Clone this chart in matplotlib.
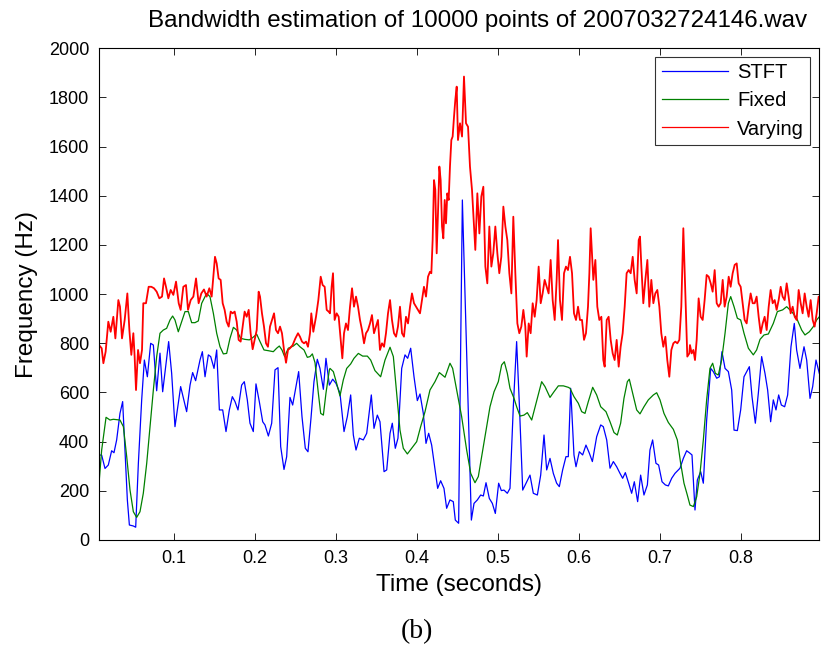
import matplotlib
matplotlib.use("Agg")
import matplotlib.pyplot as plt

plt.rcParams['font.family'] = ['Liberation Sans', 'DejaVu Sans']

title = "Bandwidth estimation of 10000 points of 2007032724146.wav"
xlabel = "Time (seconds)"
ylabel = "Frequency (Hz)"
caption = "(b)"
series_names = ["STFT", "Fixed", "Varying"]
xticks = [0.1, 0.2, 0.3, 0.4, 0.5, 0.6, 0.7, 0.8]
yticks = [0, 200, 400, 600, 800, 1000, 1200, 1400, 1600, 1800, 2000]

# STFT (blue)
stft_t = [0.0074, 0.0107, 0.0148, 0.0189, 0.0230, 0.0259, 0.0292, 0.0333, 0.0366, 0.0395,
          0.0424, 0.0449, 0.0498, 0.0527, 0.0560, 0.0601, 0.0634, 0.0671, 0.0712, 0.0745,
          0.0786, 0.0827, 0.0860, 0.0934, 0.0971, 0.1012, 0.1082, 0.1156, 0.1198, 0.1230,
          0.1267, 0.1321, 0.1350, 0.1383, 0.1424, 0.1453, 0.1494, 0.1527, 0.1560,
          0.1601, 0.1642, 0.1683, 0.1720, 0.1753, 0.1790, 0.1835, 0.1868, 0.1905, 0.1938,
          0.1979, 0.2012, 0.2053, 0.2095, 0.2123, 0.2165, 0.2206, 0.2247, 0.2284, 0.2317,
          0.2358, 0.2391, 0.2432, 0.2465, 0.2506, 0.2539, 0.2580, 0.2621, 0.2654, 0.2691,
          0.2728, 0.2769, 0.2802, 0.2844, 0.2876, 0.2918, 0.2959, 0.3000,
          0.3049, 0.3099, 0.3140, 0.3181, 0.3214, 0.3247, 0.3288, 0.3337, 0.3379, 0.3436,
          0.3469, 0.3510, 0.3543, 0.3593, 0.3626, 0.3667, 0.3695, 0.3732, 0.3765, 0.3811,
          0.3852, 0.3885, 0.3922, 0.3963, 0.4004, 0.4037, 0.4078, 0.4111, 0.4144, 0.4181,
          0.4218, 0.4255, 0.4292, 0.4333, 0.4366, 0.4407, 0.4448,
          0.4473, 0.4514, 0.4560, 0.4671, 0.4704, 0.4745, 0.4786, 0.4819, 0.4852, 0.4893,
          0.4930, 0.4967, 0.5008, 0.5041, 0.5074, 0.5115, 0.5148, 0.5189, 0.5230, 0.5263,
          0.5305, 0.5346, 0.5395, 0.5436, 0.5486, 0.5527, 0.5568, 0.5601, 0.5642, 0.5683,
          0.5724, 0.5757, 0.5798, 0.5839, 0.5868, 0.5897, 0.5938,
          0.5963, 0.6004, 0.6045, 0.6086, 0.6128, 0.6165, 0.6218, 0.6268, 0.6300, 0.6342,
          0.6383, 0.6424, 0.6465, 0.6506, 0.6539, 0.6572, 0.6613, 0.6650, 0.6683, 0.6724,
          0.6761, 0.6802, 0.6844, 0.6876, 0.6909, 0.6950, 0.6983, 0.7025, 0.7066, 0.7103,
          0.7144, 0.7185, 0.7247, 0.7288, 0.7329, 0.7362, 0.7395, 0.7432,
          0.7461, 0.7502, 0.7535, 0.7576, 0.7626, 0.7658, 0.7700, 0.7733, 0.7765, 0.7803,
          0.7844, 0.7885, 0.7914, 0.7955, 0.7996, 0.8037, 0.8103, 0.8136, 0.8177, 0.8214,
          0.8255, 0.8296, 0.8329, 0.8366, 0.8399, 0.8432, 0.8465, 0.8498, 0.8539, 0.8576,
          0.8617, 0.8658, 0.8687, 0.8728, 0.8778, 0.8811, 0.8852, 0.8885, 0.8926, 0.8967]
stft_f = [346, 345, 291, 305, 363, 355, 407, 515, 563, 366,
          163, 61, 57, 52, 312, 570, 732, 664, 800, 793,
          607, 760, 603, 807, 678, 461, 624, 522, 630, 681,
          648, 732, 766, 664, 753, 746, 698, 773, 529,
          529, 441, 529, 583, 563, 529, 630, 644, 570, 475,
          441, 635, 563, 481, 468, 423, 475, 692, 701, 380,
          287, 339, 580, 549, 624, 685, 502, 373, 359, 495,
          644, 735, 698, 613, 739, 630, 654, 637,
          597, 441, 502, 590, 427, 366, 414, 407, 434, 590,
          454, 508, 481, 278, 285, 434, 475, 373, 414, 698,
          753, 739, 780, 664, 567, 594, 515, 393, 434, 386,
          298, 210, 241, 210, 129, 163, 156,
          81, 68, 1383, 81, 149, 163, 183, 179, 233, 169,
          149, 108, 231, 201, 203, 190, 210, 542, 807, 556,
          203, 231, 264, 190, 183, 264, 427, 285, 332, 271,
          231, 217, 285, 339, 339, 617, 346,
          298, 359, 346, 386, 353, 319, 420, 468, 461, 407,
          292, 319, 298, 271, 251, 274, 231, 190, 237, 156,
          264, 183, 224, 366, 407, 312, 305, 237, 224, 220,
          251, 271, 292, 332, 363, 355, 346, 122,
          244, 278, 231, 488, 698, 685, 658, 664, 766, 698,
          685, 610, 447, 445, 529, 664, 705, 583, 475, 597,
          746, 678, 610, 481, 570, 529, 590, 549, 542, 590,
          786, 881, 773, 698, 786, 732, 576, 624, 732, 678]

# Fixed (green)
fixed_t = [0.0074, 0.0107, 0.0161, 0.0210, 0.0251, 0.0333, 0.0375, 0.0416, 0.0457, 0.0498,
           0.0539, 0.0580, 0.0621, 0.0663, 0.0704, 0.0745, 0.0786, 0.0827, 0.0868, 0.0909,
           0.0951, 0.0983, 0.1012, 0.1053, 0.1095, 0.1136, 0.1177, 0.1218, 0.1259, 0.1300,
           0.1342, 0.1403,
           0.1444, 0.1486, 0.1527, 0.1568, 0.1609, 0.1650, 0.1691, 0.1733, 0.1774, 0.1823,
           0.1877, 0.1930, 0.1971, 0.2021, 0.2062, 0.2111, 0.2165, 0.2226, 0.2267, 0.2300,
           0.2333, 0.2366, 0.2411, 0.2473, 0.2514, 0.2555, 0.2605, 0.2646, 0.2679, 0.2708,
           0.2741, 0.2782, 0.2811, 0.2844, 0.2876, 0.2918,
           0.2926, 0.2967, 0.3008, 0.3049, 0.3090, 0.3132, 0.3181, 0.3222, 0.3276, 0.3329,
           0.3387, 0.3428, 0.3481, 0.3551, 0.3605, 0.3667, 0.3708, 0.3749, 0.3790, 0.3831,
           0.3881, 0.3934, 0.3996, 0.4045, 0.4099, 0.4160, 0.4222, 0.4276, 0.4346,
           0.4407, 0.4440, 0.4490, 0.4551, 0.4613, 0.4663, 0.4716, 0.4757, 0.4798, 0.4852,
           0.4901, 0.4951, 0.5004, 0.5045, 0.5078, 0.5115, 0.5148, 0.5198, 0.5230, 0.5272,
           0.5321, 0.5362, 0.5416, 0.5469, 0.5539, 0.5580, 0.5642, 0.5691, 0.5745, 0.5807,
           0.5868,
           0.5889, 0.5938, 0.5992, 0.6033, 0.6074, 0.6115, 0.6169, 0.6218, 0.6268, 0.6333,
           0.6383, 0.6432, 0.6473, 0.6514, 0.6555, 0.6597, 0.6621, 0.6663, 0.6712, 0.6753,
           0.6802, 0.6856, 0.6918, 0.6959, 0.7000, 0.7049, 0.7103, 0.7165, 0.7214, 0.7255,
           0.7296, 0.7337,
           0.7370, 0.7412, 0.7453, 0.7494, 0.7535, 0.7576, 0.7617, 0.7650, 0.7683, 0.7720,
           0.7761, 0.7803, 0.7844, 0.7873, 0.7914, 0.7955, 0.7996, 0.8037, 0.8091, 0.8152,
           0.8193, 0.8235, 0.8284, 0.8338, 0.8399, 0.8449, 0.8514, 0.8564, 0.8626, 0.8687,
           0.8749, 0.8790, 0.8844, 0.8893, 0.8934, 0.8967]
fixed_f = [230, 366, 499, 488, 491, 488, 461, 339, 203, 115,
           92, 115, 190, 312, 461, 610, 746, 841, 854, 861,
           895, 911, 895, 847, 888, 929, 929, 884, 884, 891,
           963, 1003,
           990, 922, 841, 786, 757, 759, 820, 865, 854, 820,
           816, 814, 823, 837, 807, 773, 770, 766, 780, 789,
           773, 746, 780, 789, 800, 786, 773, 743, 746, 757,
           721, 597, 515, 508, 597, 692,
           698, 685, 637, 586, 651, 698, 716, 739, 759, 748,
           748, 732, 689, 664, 732, 784, 746, 597, 447, 373,
           350, 373, 400, 461, 522, 610, 644, 681, 662,
           719, 698, 610, 502, 366, 271, 233, 258, 339, 447,
           542, 603, 644, 712, 725, 678, 617, 576, 542, 504,
           508, 518, 488, 556, 644, 624, 580, 603, 627, 627,
           621,
           617, 583, 556, 522, 515, 563, 621, 590, 542, 522,
           481, 437, 427, 475, 576, 644, 654, 597, 529, 513,
           542, 570, 590, 599, 570, 515, 478, 450, 407, 312,
           231, 183,
           142, 136, 176, 271, 407, 570, 698, 719, 678, 671,
           732, 841, 963, 990, 949, 902, 895, 841, 780, 753,
           773, 816, 834, 838, 881, 929, 936, 949, 929, 902,
           854, 834, 847, 868, 895, 908]

# Varying (red)
varying_t = [0.0074, 0.0107, 0.0128, 0.0156, 0.0189, 0.0218, 0.0251, 0.0276,
             0.0313, 0.0333, 0.0358, 0.0391, 0.0424, 0.0449, 0.0473, 0.0498,
             0.0514, 0.0531, 0.0556, 0.0580, 0.0605, 0.0621, 0.0654, 0.0687,
             0.0720, 0.0753, 0.0786, 0.0819, 0.0852, 0.0877, 0.0901, 0.0930,
             0.0959, 0.0992, 0.1025, 0.1058, 0.1082, 0.1115, 0.1148, 0.1173,
             0.1206, 0.1239, 0.1272, 0.1304, 0.1337, 0.1370, 0.1403, 0.1436,
             0.1465,
             0.1506, 0.1527, 0.1551, 0.1576, 0.1601, 0.1625, 0.1650, 0.1675,
             0.1700, 0.1724, 0.1749, 0.1774, 0.1798, 0.1823, 0.1848, 0.1872,
             0.1897, 0.1922, 0.1946, 0.1971, 0.1996, 0.2021, 0.2045, 0.2062,
             0.2086, 0.2111, 0.2136, 0.2160, 0.2185, 0.2210, 0.2235, 0.2259,
             0.2284, 0.2309, 0.2333, 0.2358, 0.2383, 0.2407, 0.2432, 0.2465,
             0.2498, 0.2531, 0.2555, 0.2580, 0.2605, 0.2630, 0.2654, 0.2679,
             0.2695, 0.2720, 0.2753, 0.2782, 0.2811, 0.2835, 0.2860, 0.2885,
             0.2909,
             0.2926, 0.2946, 0.2963, 0.2983, 0.3008, 0.3033, 0.3058, 0.3078,
             0.3099, 0.3123, 0.3148, 0.3173, 0.3198, 0.3222, 0.3247, 0.3272,
             0.3296, 0.3321, 0.3346, 0.3370, 0.3395, 0.3420, 0.3444, 0.3469,
             0.3494, 0.3518, 0.3543, 0.3568, 0.3593, 0.3617, 0.3642, 0.3667,
             0.3691, 0.3716, 0.3741, 0.3765, 0.3790, 0.3815, 0.3839, 0.3864,
             0.3889, 0.3914, 0.3938, 0.3963, 0.3988, 0.4012, 0.4037, 0.4062,
             0.4086, 0.4111, 0.4136, 0.4160, 0.4177, 0.4193, 0.4210, 0.4226,
             0.4243, 0.4259, 0.4276, 0.4292, 0.4309, 0.4325, 0.4342, 0.4358,
             0.4374, 0.4391, 0.4407, 0.4424, 0.4440, 0.4457, 0.4473, 0.4490,
             0.4506, 0.4531, 0.4556, 0.4580, 0.4605, 0.4630, 0.4654, 0.4679,
             0.4704, 0.4720, 0.4745, 0.4770, 0.4794, 0.4819, 0.4844, 0.4868,
             0.4893, 0.4918, 0.4942, 0.4967, 0.4992, 0.5016, 0.5041, 0.5066,
             0.5091, 0.5115, 0.5140, 0.5165, 0.5189, 0.5214, 0.5239, 0.5263,
             0.5288, 0.5313, 0.5337, 0.5354, 0.5379, 0.5403, 0.5428, 0.5453,
             0.5477, 0.5502, 0.5527, 0.5551, 0.5576, 0.5601, 0.5625, 0.5650,
             0.5675, 0.5700, 0.5724, 0.5741, 0.5765, 0.5790, 0.5815, 0.5839,
             0.5864,
             0.5889, 0.5914, 0.5938, 0.5963, 0.5988, 0.6012, 0.6037, 0.6062,
             0.6086, 0.6111, 0.6128, 0.6144, 0.6160, 0.6177, 0.6202, 0.6226,
             0.6251, 0.6276, 0.6300, 0.6317, 0.6342, 0.6366, 0.6391, 0.6416,
             0.6440, 0.6465, 0.6490, 0.6514, 0.6539, 0.6564, 0.6588, 0.6613,
             0.6638, 0.6663, 0.6687, 0.6712, 0.6737, 0.6753, 0.6770, 0.6794,
             0.6819, 0.6844, 0.6868, 0.6893, 0.6918, 0.6942, 0.6967, 0.6992,
             0.7016, 0.7041, 0.7066, 0.7090, 0.7115, 0.7140, 0.7165, 0.7189,
             0.7214, 0.7239, 0.7263, 0.7288, 0.7313, 0.7337, 0.7362,
             0.7370, 0.7391, 0.7412, 0.7432, 0.7453, 0.7477, 0.7502, 0.7527,
             0.7551, 0.7576, 0.7601, 0.7626, 0.7650, 0.7675, 0.7700, 0.7724,
             0.7749, 0.7774, 0.7798, 0.7823, 0.7848, 0.7872, 0.7897, 0.7922,
             0.7947, 0.7971, 0.7996, 0.8021, 0.8045, 0.8070, 0.8095, 0.8119,
             0.8144, 0.8169, 0.8193, 0.8218, 0.8243, 0.8268, 0.8292, 0.8317,
             0.8342, 0.8366, 0.8391, 0.8416, 0.8440, 0.8465, 0.8490, 0.8514,
             0.8539, 0.8564, 0.8588, 0.8613, 0.8638, 0.8663, 0.8687, 0.8712,
             0.8737, 0.8761, 0.8786, 0.8811, 0.8835, 0.8860, 0.8885, 0.8909,
             0.8934, 0.8959, 0.8971]
varying_f = [793, 780, 719, 766, 888, 847, 908, 820,
             976, 949, 820, 895, 1003, 854, 753, 841,
             746, 610, 773, 719, 773, 963, 963, 1030,
             1030, 1024, 1010, 983, 990, 1064, 1030, 983,
             1017, 997, 1051, 963, 936, 1030, 1037, 936,
             976, 990, 1064, 963, 1003, 1019, 990, 1024,
             990,
             1152, 1125, 1064, 1058, 963, 936, 888, 868,
             929, 922, 929, 888, 814, 807, 868, 929,
             908, 936, 841, 776, 814, 854, 1010, 990,
             922, 868, 800, 786, 868, 895, 922, 854,
             841, 868, 841, 773, 721, 773, 780, 793,
             820, 841, 827, 807, 800, 807, 786, 841,
             922, 847, 908, 976, 1071, 1037, 1030, 936,
             929,
             922, 1030, 1085, 895, 922, 908, 814, 739,
             841, 881, 854, 949, 1024, 949, 990, 949,
             895, 854, 800, 841, 854, 881, 915, 841,
             868, 895, 773, 800, 786, 841, 922, 976,
             895, 841, 827, 868, 949, 841, 827, 908,
             881, 949, 1003, 963, 949, 936, 922, 976,
             1030, 990, 1071, 1091, 1085, 1220, 1464, 1424,
             1166, 1329, 1519, 1464, 1275, 1227, 1383, 1288,
             1410, 1383, 1519, 1627, 1641, 1722, 1790, 1844,
             1627, 1695, 1641, 1885, 1695, 1681, 1519, 1424,
             1275, 1180, 1410, 1247, 1397, 1437, 1112, 1044,
             1275, 1112, 1166, 1275, 1166, 1085, 1152, 1356,
             1275, 1220, 1085, 1003, 1315, 1085, 881, 841,
             868, 936, 868, 746, 881, 841, 963, 908,
             976, 1112, 963, 1003, 1058, 1030, 1003, 1139,
             976, 895, 1058, 1220, 976, 895, 1085, 1112,
             1098,
             1152, 1085, 922, 895, 949, 895, 895, 814,
             841, 949, 1085, 1268, 1166, 1058, 1139, 949,
             895, 908, 732, 705, 895, 908, 814, 759,
             732, 814, 705, 786, 841, 949, 1085, 1098,
             1085, 1152, 1058, 1003, 1220, 1234, 1112, 963,
             1058, 1139, 949, 1058, 963, 1003, 1017, 949,
             841, 786, 827, 732, 664, 773, 800, 807,
             800, 814, 949, 1268, 1003, 746, 759,
             793, 759, 773, 732, 814, 983, 908, 895,
             976, 1078, 1071, 1044, 1010, 1098, 963, 949,
             963, 1058, 949, 990, 1071, 1030, 1085, 1119,
             1125, 1044, 1030, 963, 895, 881, 949, 1003,
             963, 963, 990, 908, 841, 881, 908, 854,
             949, 1017, 963, 976, 936, 976, 1030, 990,
             976, 1044, 990, 922, 949, 908, 895, 1017,
             963, 922, 1003, 949, 908, 976, 895, 868,
             922, 990, 983]

W, H = 825, 650
fig = plt.figure(figsize=(W / 100, H / 100), dpi=100)
ax = fig.add_axes([99 / W, 1 - 540 / H, (819 - 99) / W, (540 - 48.3) / H])

ax.plot(stft_t, stft_f, color=(0, 0, 1), lw=0.9, label=series_names[0])
ax.plot(fixed_t, fixed_f, color=(0, 0.5, 0), lw=0.9, label=series_names[1])
ax.plot(varying_t, varying_f, color=(1, 0, 0), lw=1.3, label=series_names[2])

ax.set_xlim(0.0074, 0.8963)
ax.set_ylim(0, 2000)
ax.set_xticks(xticks)
ax.set_xticklabels([f"{v:g}" for v in xticks])
ax.set_yticks(yticks)
ax.tick_params(direction='in', length=5, width=0.6, top=True, right=True,
               labelsize=13, pad=7, colors='black')
for s in ax.spines.values():
    s.set_linewidth(0.8)

ax.set_title(title, fontsize=17.4, pad=15, x=(478 - 99) / 720)
ax.set_xlabel(xlabel, fontsize=17.5, labelpad=5)
ax.set_ylabel(ylabel, fontsize=17.5, labelpad=8)

leg = ax.legend(loc='upper right', fontsize=14.5, frameon=True, fancybox=False,
                edgecolor='black', handlelength=3.3, handletextpad=0.45,
                borderaxespad=0.45, labelspacing=0.45, borderpad=0.3)
leg.get_frame().set_linewidth(0.8)
for h in leg.get_lines():
    h.set_linewidth(0.9)

fig.text(417 / W, 1 - 632 / H, caption, fontsize=20, family='Liberation Serif',
         ha='center', va='center')

fig.savefig("out.png", dpi=100)
